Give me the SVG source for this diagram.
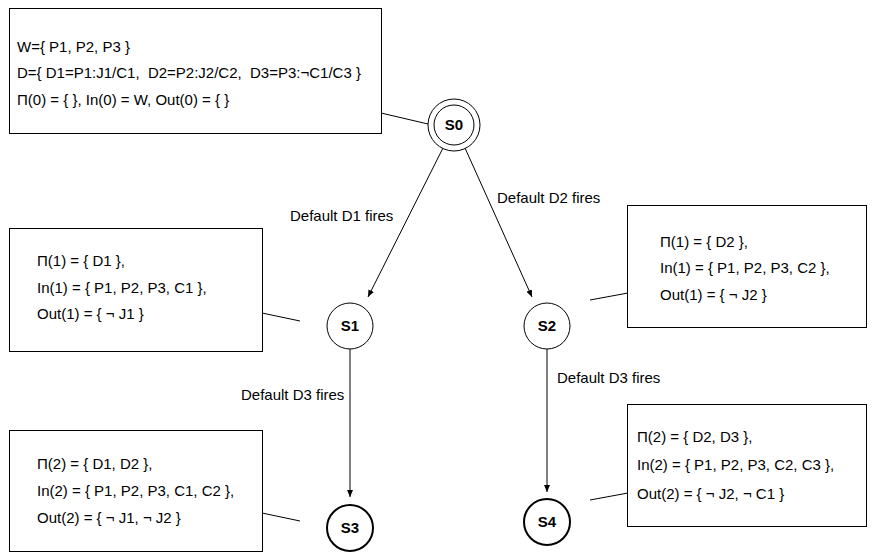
<svg xmlns="http://www.w3.org/2000/svg" width="872" height="556" viewBox="0 0 872 556">
<style>
text{font-family:"Liberation Sans",Arial,sans-serif;font-size:15px;fill:#000}
.box{fill:#fff;stroke:#000;stroke-width:1}
.st{fill:#fff;stroke:#000;stroke-width:1}
.fin{fill:#fff;stroke:#000;stroke-width:2}
.lbl{font-weight:bold;font-size:15px;text-anchor:middle}
.ln{stroke:#000;stroke-width:1;fill:none}
</style>
<defs>
<marker id="ah" markerWidth="8" markerHeight="8" refX="7" refY="3.5" orient="auto" markerUnits="userSpaceOnUse">
<path d="M0,0.5 L7,3.5 L0,6.5 Z" fill="#000"/>
</marker>
</defs>
<rect width="872" height="556" fill="#fff"/>
<g id="connectors">
<line class="ln" x1="381" y1="113" x2="428" y2="124"/>
<line class="ln" x1="262" y1="313" x2="300" y2="321"/>
<line class="ln" x1="590" y1="300" x2="628" y2="293"/>
<line class="ln" x1="262" y1="513" x2="300" y2="521"/>
<line class="ln" x1="590" y1="500" x2="628" y2="493"/>
<line class="ln" x1="443" y1="148" x2="368" y2="297" marker-end="url(#ah)"/>
<line class="ln" x1="465" y1="148" x2="532" y2="297" marker-end="url(#ah)"/>
<line class="ln" x1="350" y1="349" x2="350" y2="497" marker-end="url(#ah)"/>
<line class="ln" x1="547" y1="349" x2="547" y2="492" marker-end="url(#ah)"/>
<text x="290" y="221">Default D1 fires</text>
<text x="497" y="203">Default D2 fires</text>
<text x="241" y="400">Default D3 fires</text>
<text x="557" y="383">Default D3 fires</text>
</g>
<g id="info0">
<rect class="box" x="9.5" y="8.5" width="372" height="125"/>
<text x="17" y="52">W={ P1, P2, P3 }</text>
<text x="17" y="78" xml:space="preserve">D={ D1=P1:J1/C1,  D2=P2:J2/C2,  D3=P3:¬C1/C3 }</text>
<text x="17" y="105">Π(0) = { }, In(0) = W, Out(0) = { }</text>
</g>
<g id="S0">
<circle class="st" cx="454" cy="125" r="26"/>
<circle class="st" cx="454" cy="125" r="20"/>
<text class="lbl" x="454" y="130">S0</text>
</g>
<g id="info1">
<rect class="box" x="9.5" y="228.5" width="253" height="123"/>
<text x="37" y="266">Π(1) = { D1 },</text>
<text x="37" y="293">In(1) = { P1, P2, P3, C1 },</text>
<text x="37" y="319">Out(1) = { ¬ J1 }</text>
</g>
<g id="S1">
<circle class="st" cx="350" cy="326" r="23"/>
<text class="lbl" x="350" y="331">S1</text>
</g>
<g id="info2">
<rect class="box" x="627.5" y="205.5" width="239" height="122"/>
<text x="660" y="247">Π(1) = { D2 },</text>
<text x="660" y="273">In(1) = { P1, P2, P3, C2 },</text>
<text x="660" y="300">Out(1) = { ¬ J2 }</text>
</g>
<g id="S2">
<circle class="st" cx="547" cy="326" r="23"/>
<text class="lbl" x="547" y="331">S2</text>
</g>
<g id="info3">
<rect class="box" x="9.5" y="430.5" width="253" height="121"/>
<text x="37" y="469">Π(2) = { D1, D2 },</text>
<text x="37" y="496">In(2) = { P1, P2, P3, C1, C2 },</text>
<text x="37" y="523">Out(2) = { ¬ J1, ¬ J2 }</text>
</g>
<g id="S3">
<circle class="fin" cx="350" cy="528" r="23"/>
<text class="lbl" x="350" y="533">S3</text>
</g>
<g id="info4">
<rect class="box" x="627.5" y="404.5" width="239" height="122"/>
<text x="637" y="442">Π(2) = { D2, D3 },</text>
<text x="637" y="470">In(2) = { P1, P2, P3, C2, C3 },</text>
<text x="637" y="499">Out(2) = { ¬ J2, ¬ C1 }</text>
</g>
<g id="S4">
<circle class="fin" cx="547" cy="522" r="23"/>
<text class="lbl" x="547" y="527">S4</text>
</g>
</svg>
